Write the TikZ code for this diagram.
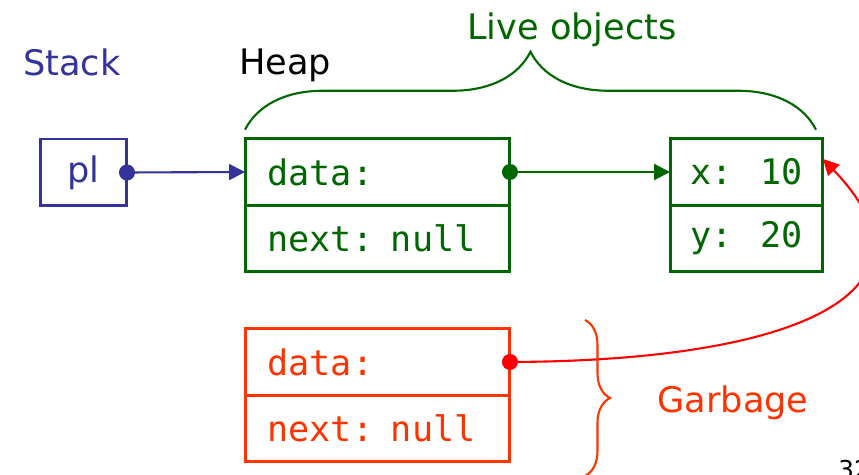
\documentclass[tikz,border=0pt]{standalone}
\usepackage{fontspec}
\setmainfont{DejaVu Sans}
\newfontfamily\monofont{DejaVu Sans Mono}
\usetikzlibrary{positioning,arrows.meta,decorations.pathreplacing}

\definecolor{stackblue}{RGB}{51,51,153}
\definecolor{livegreen}{RGB}{0,102,0}
\definecolor{garbred}{RGB}{255,51,0}
\definecolor{ptrred}{RGB}{255,0,0}

\tikzset{
  title/.style={font=\fontsize{20}{24}\selectfont},
  cell/.style={draw, rectangle, line width=1.7pt, outer sep=0pt, minimum height=1.33cm,
    font=\monofont\fontsize{20}{24}\selectfont},
  widecell/.style={cell, minimum width=5.3cm, text width=4.4cm, align=left},
  narrowcell/.style={cell, minimum width=3.06cm},
  ptr/.style={->, line width=1.2pt},
  bracket/.style={line width=1.2pt, decorate},
}

\begin{document}
\begin{tikzpicture}[x=0.02cm, y=-0.02cm, >={Triangle[length=9pt, width=9pt]}]
    \useasboundingbox (0,0) rectangle (859,475);

    % 栈
    \node[title, text=stackblue] (stack) at (72,62) {Stack};
    \node[cell, title, draw=stackblue, text=stackblue, minimum width=1.74cm, minimum height=1.34cm] (pl) at (83.5,172.5) {pl};

    % 堆：存活对象
    \node[title] (heap) at (285,65) {Heap};
    \node[widecell, draw=livegreen, text=livegreen] (data1) at (377.5,172) {data:};
    \node[widecell, draw=livegreen, text=livegreen, below=0pt of data1] (next1) {next: null};
    \node[narrowcell, draw=livegreen, text=livegreen] (xval) at (746.5,172) {x: 10};
    \node[narrowcell, draw=livegreen, text=livegreen, below=0pt of xval] (yval) {y: 20};

    % 垃圾对象
    \node[widecell, draw=garbred, text=garbred] (data2) at (377.5,362) {data:};
    \node[widecell, draw=garbred, text=garbred, below=0pt of data2] (next2) {next: null};

    % 指针
    \fill[stackblue] (pl.east) circle (0.16cm);
    \draw[ptr, stackblue] (pl.east) -- (data1.west);
    \fill[livegreen] (data1.east) circle (0.16cm);
    \draw[ptr, livegreen] (data1.east) -- (xval.west);
    \coordinate (hit) at ([yshift=0.26cm]xval.east);
    \fill[ptrred] (data2.east) circle (0.16cm);
    \draw[ptr, ptrred] (data2.east) .. controls +(290,-1) and +(127,132) .. (hit);

    % 括号
    \coordinate (liveL) at ([yshift=0.18cm]data1.north west);
    \coordinate (liveR) at ([xshift=-0.14cm, yshift=0.18cm]xval.north east);
    \draw[bracket, livegreen, decoration={brace, amplitude=1.56cm, aspect=0.5}] (liveL) -- (liveR);
    \node[title, text=livegreen] (live) at (572,30) {Live objects};

    \coordinate (garbT) at (585,320);
    \coordinate (garbB) at (585,476);
    \draw[bracket, garbred, decoration={brace, amplitude=0.5cm}] (garbT) -- (garbB);
    \node[title, text=garbred] (garbage) at (733,403) {Garbage};

    % 页码
    \node[font=\fontsize{14}{16}\selectfont, anchor=north west, inner sep=0pt] (page) at (838,460) {32};
\end{tikzpicture}
\end{document}
